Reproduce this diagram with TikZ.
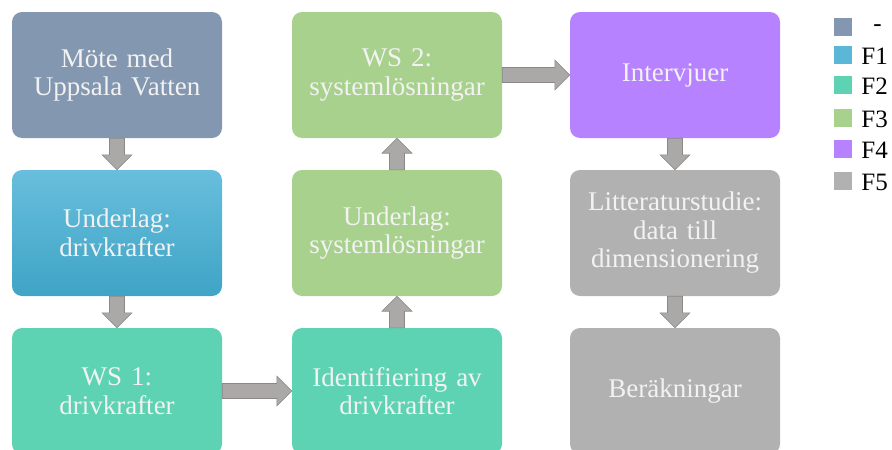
\documentclass[tikz,border=0pt]{standalone}
\usepackage{fontspec}
\setmainfont{Liberation Serif}
\usetikzlibrary{calc}

\definecolor{fgrey}{HTML}{8497B0}
\definecolor{fblueT}{HTML}{68BEDC}
\definecolor{fblueB}{HTML}{3FA4C6}
\definecolor{fblue}{HTML}{5BB7D8}
\definecolor{fteal}{HTML}{5DD3B3}
\definecolor{fgreen}{HTML}{A9D18E}
\definecolor{fpurple}{HTML}{B682FF}
\definecolor{fsilver}{HTML}{B1B1B1}
\definecolor{arrfill}{HTML}{ABA8A8}
\definecolor{arrline}{HTML}{8C8888}

% fat block arrow from one named point to another
\newcommand{\blockarrow}[2]{%
    \draw[blockarr] let \p1=(#1), \p2=(#2),
        \n1={atan2(\y2-\y1,\x2-\x1)}, \n2={veclen(\x2-\x1,\y2-\y1)} in
        [shift={(\p1)}, rotate=\n1]
        (0,-7.5) -- (\n2-15pt,-7.5) -- (\n2-15pt,-15) -- (\n2,0)
        -- (\n2-15pt,15) -- (\n2-15pt,7.5) -- (0,7.5) -- cycle;}

\begin{document}
\begin{tikzpicture}[x=1pt, y=-1pt,
    stepbox/.style={rounded corners=10pt, minimum width=210pt,
        minimum height=126pt, text width=204pt, align=center,
        inner sep=0pt, text=white!95!black,
        font=\fontsize{27}{28.5}\selectfont},
    blockarr/.style={fill=arrfill, draw=arrline, line width=0.6pt},
    legbox/.style={minimum size=18pt, inner sep=0pt},
    legtext/.style={anchor=west, inner sep=0pt,
        font=\fontsize{25}{26}\selectfont}]

    \useasboundingbox (0,0) rectangle (892,450);

    % column 1
    \node[stepbox, fill=fgrey] (mote) at (117,75) {Möte med\\Uppsala Vatten};
    \node[stepbox, top color=fblueT, bottom color=fblueB] (underlagA) at (117,233) {Underlag:\\drivkrafter};
    \node[stepbox, fill=fteal] (wsA) at (117,391) {WS 1:\\drivkrafter};
    % column 2
    \node[stepbox, fill=fteal] (ident) at (397,391) {Identifiering av\\drivkrafter};
    \node[stepbox, fill=fgreen] (underlagB) at (397,233) {Underlag:\\systemlösningar};
    \node[stepbox, fill=fgreen] (wsB) at (397,75) {WS 2:\\systemlösningar};
    % column 3
    \node[stepbox, fill=fpurple] (intervju) at (675,75) {Intervjuer};
    \node[stepbox, fill=fsilver] (litt) at (675,233) {Litteraturstudie:\\data till\\dimensionering};
    \node[stepbox, fill=fsilver] (berak) at (675,391) {Beräkningar};

    \blockarrow{mote.south}{underlagA.north}
    \blockarrow{underlagA.south}{wsA.north}
    \blockarrow{wsA.east}{ident.west}
    \blockarrow{ident.north}{underlagB.south}
    \blockarrow{underlagB.north}{wsB.south}
    \blockarrow{wsB.east}{intervju.west}
    \blockarrow{intervju.south}{litt.north}
    \blockarrow{litt.south}{berak.north}

    % legend
    \foreach \col/\lab/\ypos/\xoff [count=\i] in
        {fgrey/-/27/12, fblue/F1/55/0, fteal/F2/85/0,
         fgreen/F3/118/0, fpurple/F4/149/0, fsilver/F5/181/0}
    {
        \node[legbox, fill=\col] (leg\i) at (843,\ypos) {};
        \node[legtext] (legl\i) at ($(leg\i.east)+(9+\xoff,1)$) {\lab};
    }

\end{tikzpicture}
\end{document}
